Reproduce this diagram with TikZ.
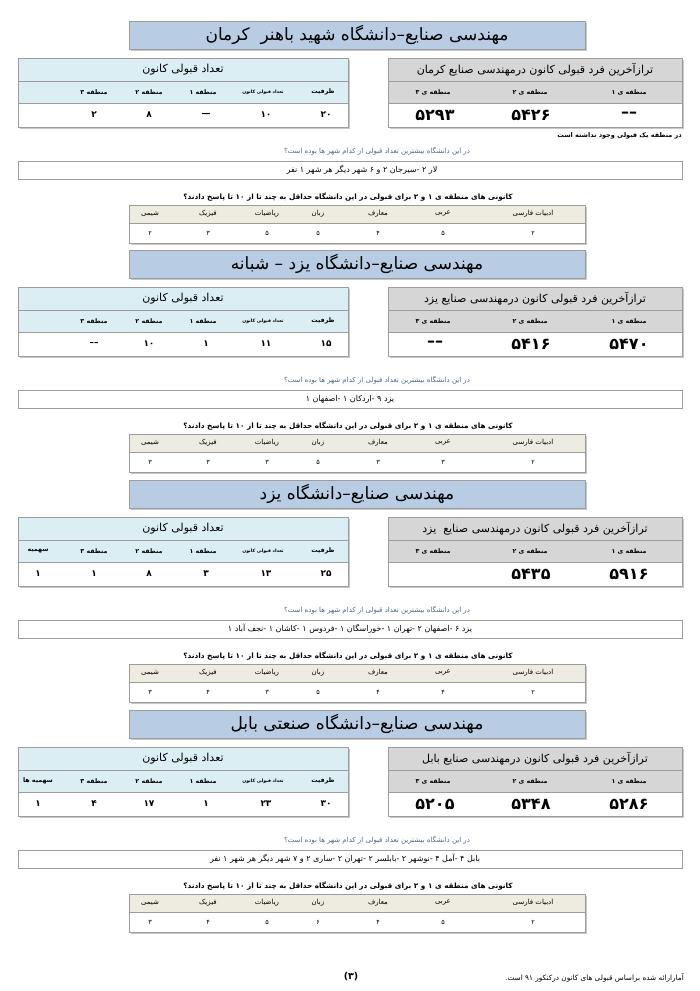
\documentclass[tikz,border=0pt]{standalone}
\usepackage{fontspec}
\TeXXeTstate=1
\newfontfamily\fafont[Script=Arabic]{DejaVu Sans}
\newcommand\fa[1]{{\fafont\beginR #1\endR}}
\newcommand\hy{\hbox{-}}
\definecolor{titleblue}{HTML}{B8CCE4}
\definecolor{cyanhead}{HTML}{DAEEF3}
\definecolor{grayhead}{HTML}{D6D6D6}
\definecolor{beige}{HTML}{EEECE1}
\definecolor{bordc}{HTML}{9C9C9C}
\definecolor{shadowc}{HTML}{C8C8C8}
\definecolor{qblue}{HTML}{4A6690}
\tikzset{
  ttl/.style={font=\fafont\fontsize{17}{20}\selectfont, inner sep=0pt},
  hd/.style={font=\fafont\fontsize{11}{13}\selectfont, inner sep=0pt},
  ch/.style={font=\fafont\bfseries\fontsize{6.3}{7}\selectfont, inner sep=0pt},
  chs/.style={font=\fafont\bfseries\fontsize{4.6}{5}\selectfont, inner sep=0pt},
  vl/.style={font=\fafont\bfseries\fontsize{9}{10}\selectfont, inner sep=0pt},
  vb/.style={font=\fafont\bfseries\fontsize{16}{18}\selectfont, inner sep=0pt},
  qs/.style={font=\fafont\fontsize{7}{8}\selectfont, text=qblue, inner sep=0pt},
  ans/.style={font=\fafont\fontsize{8}{9}\selectfont, inner sep=0pt},
  bq/.style={font=\fafont\bfseries\fontsize{7.3}{9}\selectfont, inner sep=0pt},
  sh/.style={font=\fafont\fontsize{7}{8}\selectfont, inner sep=0pt},
  sv/.style={font=\fafont\fontsize{6.5}{8}\selectfont, inner sep=0pt},
  note/.style={font=\fafont\bfseries\fontsize{6.5}{8}\selectfont, inner sep=0pt, anchor=east},
  brd/.style={draw=bordc, line width=0.8pt},
}
\newcommand\secframe[1]{%
  \fill[shadowc] (131,2) rectangle (587,30);
  \filldraw[brd, fill=titleblue] (129,0) rectangle (585,28);
  \fill[shadowc] (19.5,38.5) rectangle (349.5,107.5);
  \fill[white] (18,37) rectangle (348,106);
  \fill[cyanhead] (18,37) rectangle (348,82);
  \draw[brd] (18,37) rectangle (348,106);
  \draw[brd] (18,60) -- (348,60) (18,82) -- (348,82);
  \fill[shadowc] (389.5,38.5) rectangle (683.5,107.5);
  \fill[white] (388,37) rectangle (682,106);
  \fill[grayhead] (388,37) rectangle (682,82);
  \draw[brd] (388,37) rectangle (682,106);
  \draw[brd] (388,60) -- (682,60) (388,82) -- (682,82);
  \node[hd] (#1lh) at (183,49) {\fa{تعداد قبولی کانون}};
  \node[ch] (#1c1) at (323,71) {\fa{ظرفیت}};
  \node[chs] (#1c2) at (263,71) {\fa{تعداد قبولی کانون}};
  \node[ch] (#1c3) at (203,71) {\fa{منطقه ۱}};
  \node[ch] (#1c4) at (149,71) {\fa{منطقه ۲}};
  \node[ch] (#1c5) at (94,71) {\fa{منطقه ۳}};
  \node[ch] (#1r1) at (629,71) {\fa{منطقه ی ۱}};
  \node[ch] (#1r2) at (530,71) {\fa{منطقه ی ۲}};
  \node[ch] (#1r3) at (433,71) {\fa{منطقه ی ۳}};
  \node[qs] (#1q) at (377,130) {\fa{در این دانشگاه بیشترین تعداد قبولی از کدام شهر ها بوده است؟}};
  \draw[brd] (18,140) rectangle (682,158);
  \node[bq] (#1bq) at (348,176) {\fa{کانونی های منطقه ی ۱ و ۲ برای قبولی در این دانشگاه حداقل به چند تا از ۱۰ تا پاسخ دادند؟}};
  \fill[shadowc] (130.5,185.5) rectangle (586.5,223.5);
  \fill[white] (129,184) rectangle (585,222);
  \fill[beige] (129,184) rectangle (585,202);
  \draw[brd] (129,184) rectangle (585,222);
  \draw[brd] (129,202) -- (585,202);
  \node[sh] (#1s1) at (533,193) {\fa{ادبیات فارسی}};
  \node[sh] (#1s2) at (443,193) {\fa{عربی}};
  \node[sh] (#1s3) at (378,193) {\fa{معارف}};
  \node[sh] (#1s4) at (318,193) {\fa{زبان}};
  \node[sh] (#1s5) at (267,193) {\fa{ریاضیات}};
  \node[sh] (#1s6) at (208,193) {\fa{فیزیک}};
  \node[sh] (#1s7) at (150,193) {\fa{شیمی}};
}
% #1 prefix, #2..#8 subject values
\newcommand\subvals[8]{%
  \node[sv] (#1v1) at (533,212) {#2};
  \node[sv] (#1v2) at (443,212) {#3};
  \node[sv] (#1v3) at (378,212) {#4};
  \node[sv] (#1v4) at (318,212) {#5};
  \node[sv] (#1v5) at (267,212) {#6};
  \node[sv] (#1v6) at (208,212) {#7};
  \node[sv] (#1v7) at (150,212) {#8};
}
% #1 prefix, #2..#6 left values
\newcommand\leftvals[6]{%
  \node[vl] (#1l1) at (326,94) {#2};
  \node[vl] (#1l2) at (266,94) {#3};
  \node[vl] (#1l3) at (206,94) {#4};
  \node[vl] (#1l4) at (149,94) {#5};
  \node[vl] (#1l5) at (94,94) {#6};
}
\newcommand\rightvals[4]{%
  \node[vb] (#1b1) at (629,94) {#2};
  \node[vb] (#1b2) at (531,94) {#3};
  \node[vb] (#1b3) at (435,94) {#4};
}
\begin{document}
\begin{tikzpicture}[x=1pt,y=-1pt]
\useasboundingbox[fill=white] (0,0) rectangle (700,991);

% ---------- section 1 ----------
\begin{scope}[shift={(0,21)}]
  \secframe{a}
  \node[ttl] (aT) at (357,14) {\fa{مهندسی صنایع–دانشگاه شهید باهنر \ کرمان}};
  \node[hd] (aRH) at (535,49) {\fa{ترازآخرین فرد قبولی کانون درمهندسی صنایع کرمان}};
  \leftvals{a}{۲۰}{۱۰}{—}{۸}{۲}
  \rightvals{a}{––}{۵۴۲۶}{۵۲۹۳}
  \node[note] (aN) at (682,115) {\fa{در منطقه یک قبولی وجود نداشته است}};
  \node[ans] (aA) at (362,149) {\fa{لار ۲ \hy سیرجان ۲ و ۶ شهر دیگر هر شهر ۱ نفر}};
  \subvals{a}{۲}{۵}{۴}{۵}{۵}{۳}{۲}
\end{scope}

% ---------- section 2 ----------
\begin{scope}[shift={(0,250)}]
  \secframe{b}
  \node[ttl] (bT) at (357,14) {\fa{مهندسی صنایع–دانشگاه یزد – شبانه}};
  \node[hd] (bRH) at (535,49) {\fa{ترازآخرین فرد قبولی کانون درمهندسی صنایع یزد}};
  \leftvals{b}{۱۵}{۱۱}{۱}{۱۰}{––}
  \rightvals{b}{۵۴۷۰}{۵۴۱۶}{––}
  \node[ans] (bA) at (350,149) {\fa{یزد ۹ \hy اردکان ۱ \hy اصفهان ۱}};
  \subvals{b}{۲}{۳}{۳}{۵}{۳}{۳}{۳}
\end{scope}

% ---------- section 3 ----------
\begin{scope}[shift={(0,480)}]
  \secframe{c}
  \node[ch] (cc6) at (38,71) {\fa{سهمیه}};
  \node[ttl] (cT) at (357,14) {\fa{مهندسی صنایع–دانشگاه یزد}};
  \node[hd] (cRH) at (535,49) {\fa{ترازآخرین فرد قبولی کانون درمهندسی صنایع \ یزد}};
  \leftvals{c}{۲۵}{۱۳}{۳}{۸}{۱}
  \node[vl] (cl6) at (38,94) {۱};
  \rightvals{c}{۵۹۱۶}{۵۴۳۵}{}
  \node[ans] (cA) at (350,149) {\fa{یزد ۶ \hy اصفهان ۲ \hy تهران ۱ \hy خوراسگان ۱ \hy فردوس ۱ \hy کاشان ۱ \hy نجف آباد ۱}};
  \subvals{c}{۲}{۴}{۴}{۵}{۳}{۴}{۳}
\end{scope}

% ---------- section 4 ----------
\begin{scope}[shift={(0,710)}]
  \secframe{d}
  \node[ch] (dc6) at (38,71) {\fa{سهمیه ها}};
  \node[ttl] (dT) at (357,14) {\fa{مهندسی صنایع–دانشگاه صنعتی بابل}};
  \node[hd] (dRH) at (535,49) {\fa{ترازآخرین فرد قبولی کانون درمهندسی صنایع بابل}};
  \leftvals{d}{۳۰}{۲۳}{۱}{۱۷}{۴}
  \node[vl] (dl6) at (38,94) {۱};
  \rightvals{d}{۵۲۸۶}{۵۳۴۸}{۵۲۰۵}
  \node[ans] (dA) at (345,149) {\fa{بابل ۴ \hy آمل ۴ \hy نوشهر ۲ \hy بابلسر ۲ \hy تهران ۲ \hy ساری ۲ و ۷ شهر دیگر هر شهر ۱ نفر}};
  \subvals{d}{۲}{۵}{۴}{۶}{۵}{۴}{۳}
\end{scope}

% ---------- footer ----------
\node[font=\fafont\bfseries\fontsize{9.5}{11}\selectfont, inner sep=0pt] (pg) at (351,977) {(۳)};
\node[font=\fafont\fontsize{7.3}{8}\selectfont, inner sep=0pt, anchor=east] (ft) at (684,978) {\fa{آمارارائه شده براساس قبولی های کانون درکنکور ۹۱ است\hbox{.}}};
\end{tikzpicture}
\end{document}
